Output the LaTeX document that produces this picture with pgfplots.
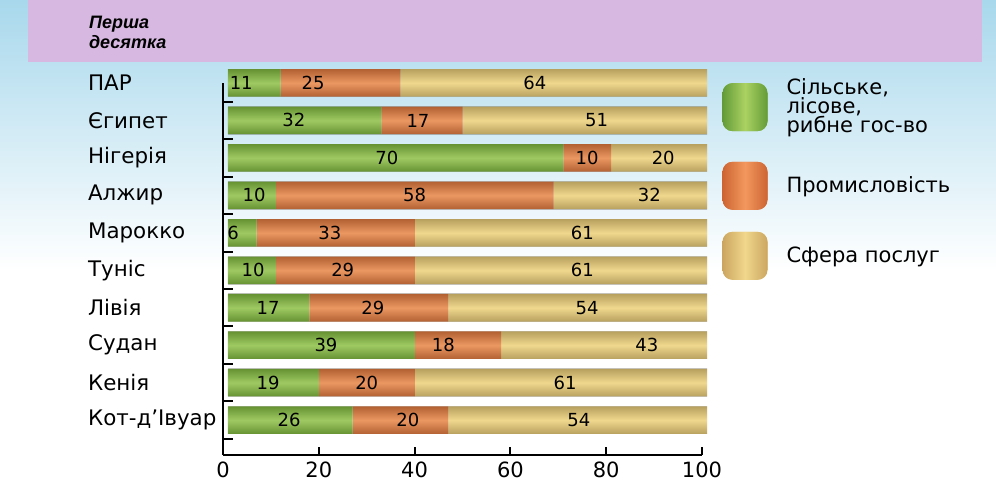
\documentclass[border=0pt]{standalone}
\usepackage{pgfplots}
\usepackage{pgfplotstable}
\pgfplotsset{compat=1.18}
\usepackage{fontspec}
\setmainfont{DejaVu Sans}
\newfontfamily\lib{Liberation Sans}
\definecolor{gB}{RGB}{132,188,66}
\definecolor{oB}{RGB}{230,124,66}
\definecolor{tB}{RGB}{236,206,122}
\definecolor{gD}{RGB}{100,155,56}
\definecolor{gL}{RGB}{170,210,98}
\definecolor{oD}{RGB}{205,100,50}
\definecolor{oL}{RGB}{242,152,94}
\definecolor{tD}{RGB}{204,166,96}
\definecolor{tL}{RGB}{240,215,140}
\definecolor{lav}{RGB}{214,184,224}
\definecolor{sky}{RGB}{168,216,236}
\pgfplotstableread{
y agr ind serv
9 11 25 64
8 32 17 51
7 70 10 20
6 10 58 32
5 6 33 61
4 10 29 61
3 17 29 54
2 39 18 43
1 19 20 61
0 26 20 54
}\datatab
\pgfplotstableread{
x y lab
3.8 9 11
18.8 9 25
65.1 9 64
14.8 8 32
40.7 8 17
78 8 51
34.2 7 70
76 7 10
91.9 7 20
6.5 6 10
40 6 58
89 6 32
2.1 5 6
22.3 5 33
75 5 61
6.3 4 10
25 4 29
75 4 61
9.4 3 17
31.3 3 29
76 3 54
21.5 2 39
46 2 18
88.5 2 43
9.4 1 19
30 1 20
71.4 1 61
13.8 0 26
38.6 0 20
74.3 0 54
}\labtab
\begin{document}
\begin{tikzpicture}
\path (0,0) rectangle (498pt,-242.5pt);
\shade[top color=sky, bottom color=white] (0,0) rectangle (498pt,-135pt);
\fill[lav] (14pt,0) rectangle (491pt,-31pt);
\node[anchor=west, align=left, font=\lib\fontsize{9}{10}\selectfont\bfseries\itshape] at (41pt,-16pt) {Перша\\десятка};
\begin{axis}[
  at={(111.5pt,-227.5pt)}, anchor=south west,
  scale only axis, width=239.5pt, height=186pt,
  xbar stacked, bar width=0.735,
  xmin=0, xmax=100, ymin=-0.93, ymax=9,
  clip=false,
  axis x line*=bottom, axis y line*=left,
  axis line style={line width=1pt, black},
  tick align=inside,
  xtick={0,20,...,100},
  ytick={0,...,9},
  yticklabels={Кот-д’Івуар,Кенія,Судан,Лівія,Туніс,Марокко,Алжир,Нігерія,Єгипет,ПАР},
  minor ytick={-0.5,0.5,...,8.5},
  every major y tick/.append style={draw=none},
  every minor y tick/.append style={line width=1pt, black},
  minor tick length=5pt, major tick length=4pt,
  every major x tick/.append style={line width=1pt, black},
  yticklabel style={anchor=west, xshift=-71pt, font=\fontsize{10.7}{13}\selectfont},
  xticklabel style={font=\fontsize{10.5}{12}\selectfont},
  /pgf/number format/assume math mode=true,
  legend style={at={(1.042,1.024)}, anchor=north west, draw=none, fill=none, inner sep=0pt,
    row sep=11pt, column sep=7.5pt, cells={anchor=west, align=left},
    font=\fontsize{10.5}{9.6}\selectfont},
  legend cell align=left,
]
\addplot[draw=none, fill=gB, xshift=2.5pt,
  legend image code/.code={\shade[left color=gD, right color=gD, middle color=gL, rounded corners=5pt] (0pt,-12pt) rectangle (22.5pt,12pt);}]
  table[x=agr, y=y]{\datatab};
\addlegendentry{Сільське,\\лісове,\\рибне гос-во}
\addplot[draw=none, fill=oB, xshift=2.5pt,
  legend image code/.code={\shade[left color=oD, right color=oD, middle color=oL, rounded corners=5pt] (0pt,-12pt) rectangle (22.5pt,12pt);}]
  table[x=ind, y=y]{\datatab};
\addlegendentry{Промисловість}
\addplot[draw=none, fill=tB, xshift=2.5pt,
  legend image code/.code={\shade[left color=tD, right color=tD, middle color=tL, rounded corners=5pt] (0pt,-12pt) rectangle (22.5pt,12pt);}]
  table[x=serv, y=y]{\datatab};
\addlegendentry{Сфера послуг}
\end{axis}
\begin{axis}[
  at={(111.5pt,-227.5pt)}, anchor=south west,
  scale only axis, width=239.5pt, height=186pt,
  xmin=0, xmax=100, ymin=-0.93, ymax=9,
  hide axis, clip=false,
]
\pgfplotsinvokeforeach{0,...,9}{
\addplot[xbar, bar width=0.735, bar shift=0pt, draw=none, xshift=2.5pt, forget plot,
  top color=black, bottom color=black, middle color={rgb,255:red,255;green,252;blue,215}, fill opacity=0.22]
  coordinates {(100,#1)};
}
\addplot[only marks, mark=none, nodes near coords, point meta=explicit symbolic,
  every node near coord/.append style={anchor=center, text=black, font=\fontsize{9}{10}\selectfont}]
  table[x=x, y=y, meta=lab]{\labtab};
\end{axis}
\end{tikzpicture}
\end{document}
